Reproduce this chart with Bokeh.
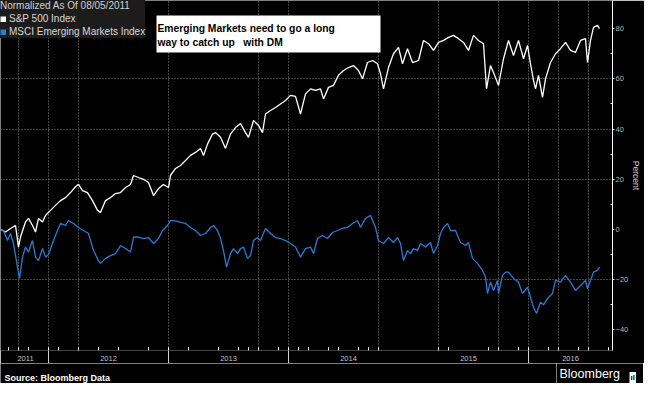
from bokeh.plotting import figure
from bokeh.layouts import column, row
from bokeh.models import (Range1d, LinearAxis, FixedTicker, Legend, LegendItem,
                          Label, BoxAnnotation, Grid)
from bokeh.embed import file_html
from bokeh.resources import INLINE

# x values: months after 2011-09-01
sp_months = [-0.8, -0.3, 0.2, 0.7, 1.0, 1.2, 1.7, 2.0, 2.4, 2.7,
             3.0, 3.4, 3.7, 4.2, 4.7, 5.2, 5.7, 6.2, 6.7, 7.0,
             7.4, 7.9, 8.4, 8.9, 9.2, 9.7, 10.2, 10.7, 11.2, 11.7,
             12.2, 12.5, 13.0, 13.5, 14.0, 14.5, 15.0, 15.5, 16.0, 16.2,
             16.7, 17.2, 17.7, 18.2, 18.7, 19.2, 19.5, 19.9, 20.4, 20.7,
             21.2, 21.7, 22.2, 22.7, 23.2, 23.7, 24.0, 24.5, 25.0, 25.4,
             25.7, 26.2, 26.7, 27.2, 27.7, 28.2, 28.7, 29.2, 29.7, 30.2,
             30.7, 31.2, 31.5, 32.0, 32.5, 33.0, 33.5, 34.0, 34.5, 35.0,
             35.4, 35.9, 36.4, 36.9, 37.2, 37.5, 38.0, 38.5, 39.0, 39.4,
             39.9, 40.4, 41.0, 41.5, 42.0, 42.5, 43.0, 43.5, 44.0, 44.5,
             45.0, 45.5, 46.0, 46.5, 47.0, 47.5, 47.8, 48.2, 48.5, 49.0,
             49.5, 50.0, 50.5, 51.0, 51.5, 51.9, 52.2, 52.5, 52.7, 53.0,
             53.4, 53.7, 54.2, 54.7, 55.2, 55.7, 56.2, 56.7, 57.2, 57.7,
             57.9, 58.2, 58.5, 58.9, 59.1]
sp_values = [0.0, -1, 0.4, 1.6, -7, -3, 3, 4.4, 1.6, -1,
             4.4, 3, 5.6, 7.6, 9.6, 11.5, 12.7, 14.7, 17, 18,
             15.5, 14.7, 11.5, 7.6, 6.8, 11.5, 12.7, 14.3, 14.7, 16.7,
             17.9, 21.5, 20.7, 20, 18.7, 13.5, 16.3, 17.9, 16.7, 21.5,
             24.3, 25.5, 27.5, 29.5, 30.7, 32.3, 29.5, 34, 38, 38.6,
             36.7, 32.3, 38, 40.6, 42.2, 38.6, 36.7, 43.4, 41.4, 38.6,
             46, 47.4, 48.6, 50, 51.4, 53.4, 53, 46, 54, 56,
             55.4, 56, 52, 56.6, 57.4, 61.4, 63.3, 64.5, 65.3, 63.3,
             60, 66.5, 67.3, 66, 62, 56, 64.5, 70, 72.5, 66,
             72, 66.5, 67.3, 75.3, 74, 71.3, 74.5, 75.3, 76.5, 77.3,
             76, 74.5, 71.3, 77.3, 75.3, 74, 56, 65.3, 62.5, 57.4,
             68, 75.3, 69.3, 75.3, 68, 73.3, 66, 59.4, 56, 61.4,
             52.6, 60, 66.5, 70, 72, 74.5, 71.3, 70.5, 75.3, 76,
             66.5, 75.3, 80.5, 81.3, 80]

em_months = [-0.8, -0.5, -0.1, 0.2, 0.5, 0.9, 1.1, 1.4, 1.7, 2.0,
             2.4, 2.7, 3.0, 3.4, 3.7, 4.0, 4.5, 4.9, 5.2, 5.7,
             6.0, 6.5, 7.0, 7.5, 8.0, 8.5, 9.0, 9.2, 9.7, 10.2,
             10.7, 11.2, 11.7, 12.2, 12.5, 13.0, 13.5, 14.0, 14.5, 15.0,
             15.4, 15.9, 16.2, 16.7, 17.2, 17.7, 18.2, 18.7, 19.2, 19.7,
             20.2, 20.5, 20.9, 21.2, 21.5, 21.8, 22.2, 22.5, 22.9, 23.2,
             23.5, 23.9, 24.2, 24.5, 24.9, 25.2, 25.7, 26.2, 26.7, 27.2,
             27.7, 28.2, 28.7, 29.2, 29.7, 30.2, 30.5, 30.9, 31.4, 31.9,
             32.4, 32.9, 33.4, 33.9, 34.4, 34.9, 35.2, 35.7, 36.2, 36.7,
             37.0, 37.5, 38.0, 38.5, 38.9, 39.2, 39.5, 39.9, 40.2, 40.5,
             40.9, 41.2, 41.7, 42.2, 42.5, 42.9, 43.2, 43.5, 43.9, 44.2,
             44.7, 45.2, 45.7, 46.0, 46.4, 46.9, 47.4, 47.7, 47.9, 48.2,
             48.5, 48.9, 49.0, 49.4, 49.7, 50.0, 50.5, 51.0, 51.4, 51.9,
             52.2, 52.5, 52.8, 53.2, 53.5, 53.9, 54.4, 54.7, 55.2, 55.7,
             56.2, 56.7, 57.2, 57.7, 57.9, 58.2, 58.5, 58.9, 59.1]
em_values = [0, -0.4, -4.4, -1.6, -5.6, -15, -19.5, -11, -7, -9,
             -4.4, -11, -12.4, -7.6, -11, -10, -4.4, -0.4, 2.4, 1.6,
             3.6, 2.4, 0.8, -0.4, -1.6, -8.4, -12.4, -13.5, -11.5, -10.4,
             -9.6, -6.4, -7.6, -9, -3, -3, -3.6, -3.2, -5.6, -3.6,
             -0.4, 1.6, 3.6, 3.4, 2.8, 2.4, 0.8, -0.4, -2.4, -1.6,
             0.8, 1.6, -0.4, -3.6, -8.4, -15, -9.6, -7.6, -9.6, -7.6,
             -7, -11.5, -10.4, -4.4, -3.2, -4.4, 0.4, -1.6, -3.2, -3.6,
             -4.4, -5.6, -7, -11, -7.6, -7, -9.6, -3.6, -2.4, -3.6,
             -1.2, -0.4, 0.4, 0.8, 2.4, 3.6, 0.8, 4.4, 5.6, 0.8,
             -4.4, -5.6, -3.2, -5.2, -3.2, -5.6, -12.4, -8.4, -9.6, -7.6,
             -8.4, -5.6, -7, -5.2, -9.6, -6.4, -1.6, 0.8, 2.4, -0.4,
             -0.4, -5.2, -6.4, -5.2, -11.5, -13.5, -16.3, -19, -25.5, -21,
             -24.3, -20.3, -25.5, -18.3, -17, -17, -19.5, -21, -25.5, -23,
             -27, -31, -33.5, -29, -30, -27.5, -25.5, -20.3, -21, -18.3,
             -21, -24.3, -22.3, -20.3, -23.5, -20.3, -17, -16.3, -15]

year_label_months = [1.7, 10, 22, 34, 46, 56.2]
year_labels = ["2011", "2012", "2013", "2014", "2015", "2016"]
year_sep_months = [4, 16, 28, 52]
month_ticks = [0, 1, 2, 4, 5, 7, 9, 11, 14, 16, 18, 21, 23, 24, 25, 27, 28, 29, 30,
               32, 33, 35, 36, 37, 43, 44, 48, 49, 51, 52, 54, 55, 57, 58, 60]
grid_months = [1, 4, 7, 16, 25, 28, 37, 43, 49, 52, 55, 58]
y_ticks = [-40, -20, 0, 20, 40, 60, 80]
y_minor = [-30, -10, 10, 30, 50, 70]
y_grid = [-20, 20, 40, 60]

FONT = "Liberation Sans"
BLUE = "#2b7bd2"
Y0, Y1 = -48.2, 91.2

p = figure(frame_width=612, frame_height=350, output_backend="svg", toolbar_location=None,
           x_range=Range1d(-0.8, 60.4), y_range=Range1d(Y0, Y1),
           x_axis_location=None, y_axis_location="right",
           background_fill_color="black", border_fill_color="black",
           min_border_left=0, min_border_top=0, min_border_right=31, min_border_bottom=13)
p.outline_line_color = None
p.grid.grid_line_color = None

p.add_layout(Grid(dimension=0, ticker=FixedTicker(ticks=grid_months),
                  grid_line_color="#8a8a8a", grid_line_dash="1 2", grid_line_width=1))
p.add_layout(Grid(dimension=1, ticker=FixedTicker(ticks=y_grid),
                  grid_line_color="#8a8a8a", grid_line_dash="1 2", grid_line_width=1))

# month tick marks standing on the bottom edge of the frame
p.segment(x0=month_ticks, x1=month_ticks, y0=[Y0] * len(month_ticks),
          y1=[Y0 + 1.3] * len(month_ticks), line_color="white", line_width=1)

p.line(sp_months, sp_values, line_color="white", line_width=1.3)
p.line(em_months, em_values, line_color=BLUE, line_width=1.3)

# legend swatches: single-point lines (draw nothing in the plot, a square in the legend)
sw1 = p.line(x=sp_months[:1], y=sp_values[:1], line_color="white", line_width=6)
sw2 = p.line(x=em_months[:1], y=em_values[:1], line_color=BLUE, line_width=6)
legend = Legend(items=[LegendItem(label="S&P 500 Index", renderers=[sw1]),
                       LegendItem(label="MSCI Emerging Markets Index", renderers=[sw2])],
                location="top_left", title="Normalized As Of 08/05/2011",
                title_text_font=FONT, title_text_font_size="10px", title_text_color="#d0d0d0",
                title_text_font_style="normal", title_standoff=1,
                label_text_font=FONT, label_text_font_size="10px", label_text_color="#d8d8d8",
                glyph_width=6, glyph_height=6, label_height=13, label_standoff=3,
                spacing=0, padding=5, margin=0,
                background_fill_color="#1c1c1c", background_fill_alpha=1,
                border_line_color=None)
p.add_layout(legend, "center")

# right axis
yax = p.yaxis[0]
yax.ticker = FixedTicker(ticks=y_ticks, minor_ticks=y_minor)
yax.axis_line_color = "white"
yax.major_tick_line_color = "white"
yax.minor_tick_line_color = "white"
yax.major_tick_out = 2
yax.major_tick_in = 0
yax.minor_tick_in = 2
yax.minor_tick_out = 0
yax.major_label_text_color = "#b8b8b8"
yax.major_label_text_font = FONT
yax.major_label_text_font_size = "7.5px"
yax.major_label_standoff = 1
yax.axis_label = "Percent"
yax.axis_label_text_font = FONT
yax.axis_label_text_font_size = "8.5px"
yax.axis_label_text_color = "#cccccc"
yax.axis_label_text_font_style = "normal"
yax.axis_label_standoff = 0

# bottom: year labels and separators
ax2 = LinearAxis(ticker=FixedTicker(ticks=year_label_months, minor_ticks=year_sep_months),
                 axis_line_color=None, major_tick_line_color=None,
                 major_tick_in=0, major_tick_out=0,
                 minor_tick_in=0, minor_tick_out=13, minor_tick_line_color="#cfcfcf",
                 major_label_overrides={m: t for m, t in zip(year_label_months, year_labels)},
                 major_label_text_color="#c4c4c4", major_label_text_font=FONT,
                 major_label_text_font_size="7.5px", major_label_standoff=-8)
p.add_layout(ax2, "below")

# annotation box
box = BoxAnnotation(left=156, right=380, bottom=298, top=335,
                    left_units="screen", right_units="screen",
                    top_units="screen", bottom_units="screen",
                    fill_color="white", fill_alpha=1, line_color=None)
p.add_layout(box)
for txt, yy in [("Emerging Markets need to go a long", 322),
                ("way to catch up\u00a0\u00a0 with DM", 308)]:
    p.add_layout(Label(x=157, y=yy, x_units="screen", y_units="screen", text=txt,
                       text_font=FONT, text_font_style="bold", text_font_size="10.3px",
                       text_color="black", text_baseline="alphabetic"))


def strip(w):
    f = figure(width=w, height=20, output_backend="svg", toolbar_location=None,
               x_range=Range1d(0, w), y_range=Range1d(0, 20),
               x_axis_location=None, y_axis_location=None,
               background_fill_color="black", border_fill_color="black", min_border=0)
    f.outline_line_color = None
    f.grid.grid_line_color = None
    return f


foot_l = strip(556)
foot_l.add_layout(Label(x=4, y=6, x_units="screen", y_units="screen",
                        text="Source: Bloomberg Data", text_font=FONT, text_font_style="bold",
                        text_font_size="9px", text_color="white", text_baseline="alphabetic"))
foot_r = strip(87)
foot_r.add_layout(Label(x=3, y=10, x_units="screen", y_units="screen",
                        text="Bloomberg", text_font=FONT, text_font_size="12.5px",
                        text_color="white", text_baseline="middle"))
foot_r.add_layout(Label(x=73, y=6, x_units="screen", y_units="screen",
                        text="ıl", text_font=FONT, text_font_style="bold", text_font_size="8px",
                        text_color="black", text_baseline="alphabetic",
                        background_fill_color="white", padding=1))

layout = column(p, row(foot_l, foot_r, spacing=0), spacing=0)
open("out.html", "w").write(file_html(layout, INLINE))
